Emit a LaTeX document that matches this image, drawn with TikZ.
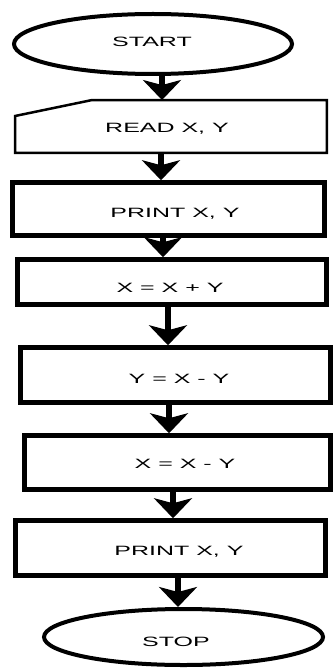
\documentclass[tikz,border=0pt]{standalone}
\usepackage{fontspec}
\setmainfont{Liberation Sans}[FakeStretch=1.85]
\usetikzlibrary{arrows.meta,shapes.geometric}
\begin{document}
\begin{tikzpicture}[x=1pt,y=-1pt,
  term/.style={ellipse,draw,line width=4pt,inner sep=0pt},
  procbox/.style={rectangle,draw,line width=4.5pt,inner sep=0pt},
  inbox/.style={rectangle,draw=none,inner sep=0pt},
  txt/.style={anchor=base,inner sep=0pt,font=\fontsize{13.5}{14}\selectfont},
  flow/.style={line width=6pt,-{Stealth[length=20pt,width=38pt,inset=5pt]}}]
\useasboundingbox (0,0) rectangle (335,671);
% shapes
\node[term,minimum width=278pt,minimum height=60pt] (start) at (153,44) {};
\node[inbox,minimum width=311.5pt,minimum height=52.5pt] (read) at (171,126.5) {};
\draw[line width=2.5pt] (read.south west) -- (read.south east) -- (read.north east)
   -- (read.north -| 92,0) -- (read.west |- 0,116) -- cycle;
\node[procbox,minimum width=312pt,minimum height=53pt] (p1) at (168.5,209) {};
\node[procbox,minimum width=309pt,minimum height=45pt] (s1) at (172,282) {};
\node[procbox,minimum width=310pt,minimum height=55pt] (s2) at (175.5,375) {};
\node[procbox,minimum width=306pt,minimum height=54pt] (s3) at (177.5,462.5) {};
\node[procbox,minimum width=310pt,minimum height=55pt] (p2) at (170.5,548) {};
\node[term,minimum width=279pt,minimum height=56pt] (stop) at (183.5,637) {};
% texts
\node[txt] (tstart) at (152,47) {START};
\node[txt] (tread) at (167,133) {READ X, Y};
\node[txt] (tp1) at (175,217) {PRINT X, Y};
\node[txt] (ts1) at (170,292) {X = X + Y};
\node[txt] (ts2) at (179,383) {Y = X - Y};
\node[txt] (ts3) at (185,468) {X = X - Y};
\node[txt] (tp2) at (179,555) {PRINT X, Y};
\node[txt] (tstop) at (176,646) {STOP};
% connectors
\draw[flow] (start.south -| 162,0) -- (read.north -| 162,0);
\draw[flow] (read.south -| 161,0) -- (p1.north -| 161,0);
\draw[flow] (p1.south -| 163,0) -- (s1.north -| 163,0);
\draw[flow] (s1.south -| 168,0) -- (s2.north -| 168,0);
\draw[flow] (s2.south -| 169,0) -- (s3.north -| 169,0);
\draw[flow] (s3.south -| 173,0) -- (p2.north -| 173,0);
\draw[flow] (p2.south -| 178,0) -- (stop.north -| 178,0);
\end{tikzpicture}
\end{document}
